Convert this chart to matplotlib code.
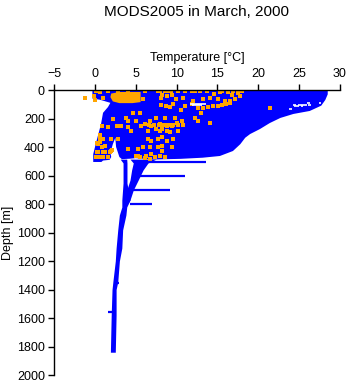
import matplotlib
matplotlib.use("Agg")
import matplotlib.pyplot as plt

plt.rcParams['font.family'] = ['Liberation Sans', 'DejaVu Sans']

BLUE = '#0000ff'
ORANGE = '#ffa500'

# outline of the dense upper cloud of profiles (temperature, depth)
cloud_t = [-0.3, 28.5, 28.5, 28.2, 27.7, 26.3, 24.3, 22.7, 21.4, 20.2, 19.0, 18.4,
           17.8, 16.9, 15.3, 13.2, 10.5, 7.0, 5.0, 4.3, 3.3, 3.0, 2.6, 2.5, 2.2,
           1.9, 2.0, 1.8, 1.0, 0.8, -0.2, -0.2, 0.1, 0.75, 1.0, 1.6, 1.9, 0.6, -0.3]
cloud_d = [0, 0, 30, 70, 110, 147, 168, 196, 232, 274, 309, 335,
           380, 428, 463, 475, 483, 488, 478, 482, 485, 470, 400, 335, 380,
           440, 470, 490, 495, 505, 505, 450, 380, 240, 160, 120, 90, 68, 60]

# deep tail (left strand continues to the bottom)
tail_d = [485, 512, 653, 772, 821, 877, 982, 1109, 1200, 1347, 1400, 1579, 1840]
tail_lo = [3.1, 3.45, 3.45, 3.3, 3.3, 3.0, 2.8, 2.6, 2.5, 2.2, 2.1, 2.0, 1.9]
tail_hi = [3.9, 3.93, 3.93, 4.3, 3.9, 3.8, 3.4, 3.3, 3.0, 2.8, 2.6, 2.6, 2.5]

# right strand merging into the tail
strand_d = [485, 512, 561, 632, 702, 772, 800]
strand_lo = [4.3, 4.7, 4.5, 4.3, 3.9, 3.6, 3.5]
strand_hi = [7.5, 6.5, 5.9, 5.3, 4.7, 4.3, 4.0]

# single profiles running off horizontally
spike_d = [502, 606, 702, 802, 1560, 1354]
spike_t0 = [6.5, 5.3, 4.4, 4.3, 1.6, 2.6]
spike_t1 = [13.6, 11.0, 9.2, 7.0, 2.1, 2.9]

# large patch of flagged values near the surface
patch_t = [3.0, 5.6, 5.6, 4.6, 3.0, 2.2, 1.9, 2.0]
patch_d = [14, 14, 85, 92, 92, 80, 50, 25]

# flagged observations
flag_t = [-1.2, 0.0, -0.1, 0.1, 0.6, 1.0, 1.6, 2.8, 4.1, 6.1, 7.7, 9.0, 5.9, 8.1,
          4.7, 5.5, 2.2, 3.8, 4.1, 5.0, 6.7, 7.5, 6.1, 6.9, 8.0,
          8.0, 8.6, 9.3, 10.2, 11.0, 11.9, 12.3, 12.9, 13.7, 15.6, 16.3, 16.9, 17.5,
          8.2, 8.8, 9.4, 9.9, 10.8, 12.0, 13.2, 14.1, 15.1, 15.9, 16.5, 17.2,
          8.1, 8.7, 9.2, 9.6, 11.0, 11.9, 12.6, 13.2, 13.8, 14.5, 15.1, 15.6, 16.0, 16.5,
          8.6, 9.8, 10.7, 12.3, 12.6, 14.1, 10.1, 9.2, 21.4, 18.0,
          0.9, 1.6, 2.7, 3.2, 4.1, 4.4, 5.6, 6.5, 7.5, 8.0, 0.6, 0.6, 1.0, 2.0, 2.8,
          0.4, 1.2, 2.0, 1.0, 0.4, 0.1, 0.75, 1.6, 4.1, 5.3, 5.9, 6.7, 7.7,
          5.0, 5.5, 6.3, 6.9, 7.4, 8.0, 6.5, 6.9, 7.7,
          8.2, 8.8, 9.4, 10.2, 10.8, 8.2, 8.8, 9.2, 10.2, 8.2, 8.8, 9.6, 8.2, 9.4,
          8.2, 8.6, 0.26, 0.63, 0.87, 0.26, 1.24, 1.85, 0.26, 1.0, 2.1, 5.3, 6.1, 6.7,
          6.6, 7.2, 7.8, 8.4, 9.0, 9.6, 14.6, 15.3, 16.8, 17.8, 10.6, 13.0]
flag_d = [56, 70, 42, 7, 14, 56, 4, 7, 4, 7, 4, 4, 63, 56,
          161, 161, 204, 196, 218, 218, 218, 196, 239, 253, 239,
          4, 4, 4, 7, 4, 4, 4, 4, 7, 7, 14, 4, 21,
          35, 42, 35, 63, 56, 77, 63, 56, 63, 77, 77, 63,
          105, 112, 119, 98, 112, 98, 126, 126, 119, 112, 112, 105, 98, 91,
          196, 196, 218, 196, 218, 232, 232, 246, 126, 7,
          253, 260, 253, 253, 260, 288, 253, 288, 274, 288, 316, 344, 344, 344, 344,
          379, 393, 428, 435, 435, 470, 470, 470, 414, 414, 400, 400, 400,
          463, 470, 463, 449, 470, 463, 344, 358, 344,
          253, 253, 253, 246, 246, 274, 288, 295, 288, 330, 358, 344, 393, 400,
          428, 470, 372, 365, 400, 435, 435, 435, 470, 470, 421, 463, 477, 484,
          246, 246, 246, 246, 246, 246, 28, 14, 35, 42, 140, 160]

# gaps inside the cloud
gap_d = [98, 106, 92, 93, 103, 107, 109, 102, 108, 111, 111, 131]
gap_t0 = [11.7, 11.9, 26.0, 27.4, 24.3, 24.9, 24.7, 25.5, 26.1, 25.2, 24.4, 23.8]
gap_t1 = [13.6, 13.1, 26.3, 27.7, 24.6, 25.5, 25.0, 26.0, 26.5, 25.5, 24.7, 24.1]

xticks = [-5, 0, 5, 10, 15, 20, 25, 30]
yticks = list(range(0, 2001, 200))

fig = plt.figure(figsize=(3.48, 3.84), dpi=100)
ax = fig.add_axes([0.1552, 0.0234, 0.8218, 0.7422])

ax.fill(cloud_t, cloud_d, color=BLUE, lw=0)
ax.fill_betweenx(tail_d, tail_lo, tail_hi, color=BLUE, lw=0)
ax.fill_betweenx(strand_d, strand_lo, strand_hi, color=BLUE, lw=0)
ax.hlines(spike_d, spike_t0, spike_t1, color=BLUE, lw=1.6)
ax.hlines(gap_d, gap_t0, gap_t1, color='white', lw=1.2)
ax.fill(patch_t, patch_d, color=ORANGE, lw=0)
ax.scatter(flag_t, flag_d, s=8, marker='s', color=ORANGE, linewidths=0)

ax.set_xlim(-5, 30)
ax.set_ylim(2000, 0)
ax.set_xticks(xticks)
ax.set_yticks(yticks)
ax.xaxis.tick_top()
ax.xaxis.set_label_position('top')
ax.spines['right'].set_visible(False)
ax.spines['bottom'].set_visible(False)
for s in ['top', 'left']:
    ax.spines[s].set_linewidth(1.0)
ax.tick_params(axis='both', direction='out', length=4.5, width=1.0, labelsize=9)
ax.tick_params(axis='x', pad=2.5)
ax.tick_params(axis='y', pad=2)
ax.set_xlabel('Temperature [°C]', fontsize=9, labelpad=5)
ax.set_ylabel('Depth [m]', fontsize=9, labelpad=2)

fig.text(0.566, 0.968, 'MODS2005 in March, 2000', ha='center', va='center', fontsize=11)

fig.savefig('out.png', dpi=100)
